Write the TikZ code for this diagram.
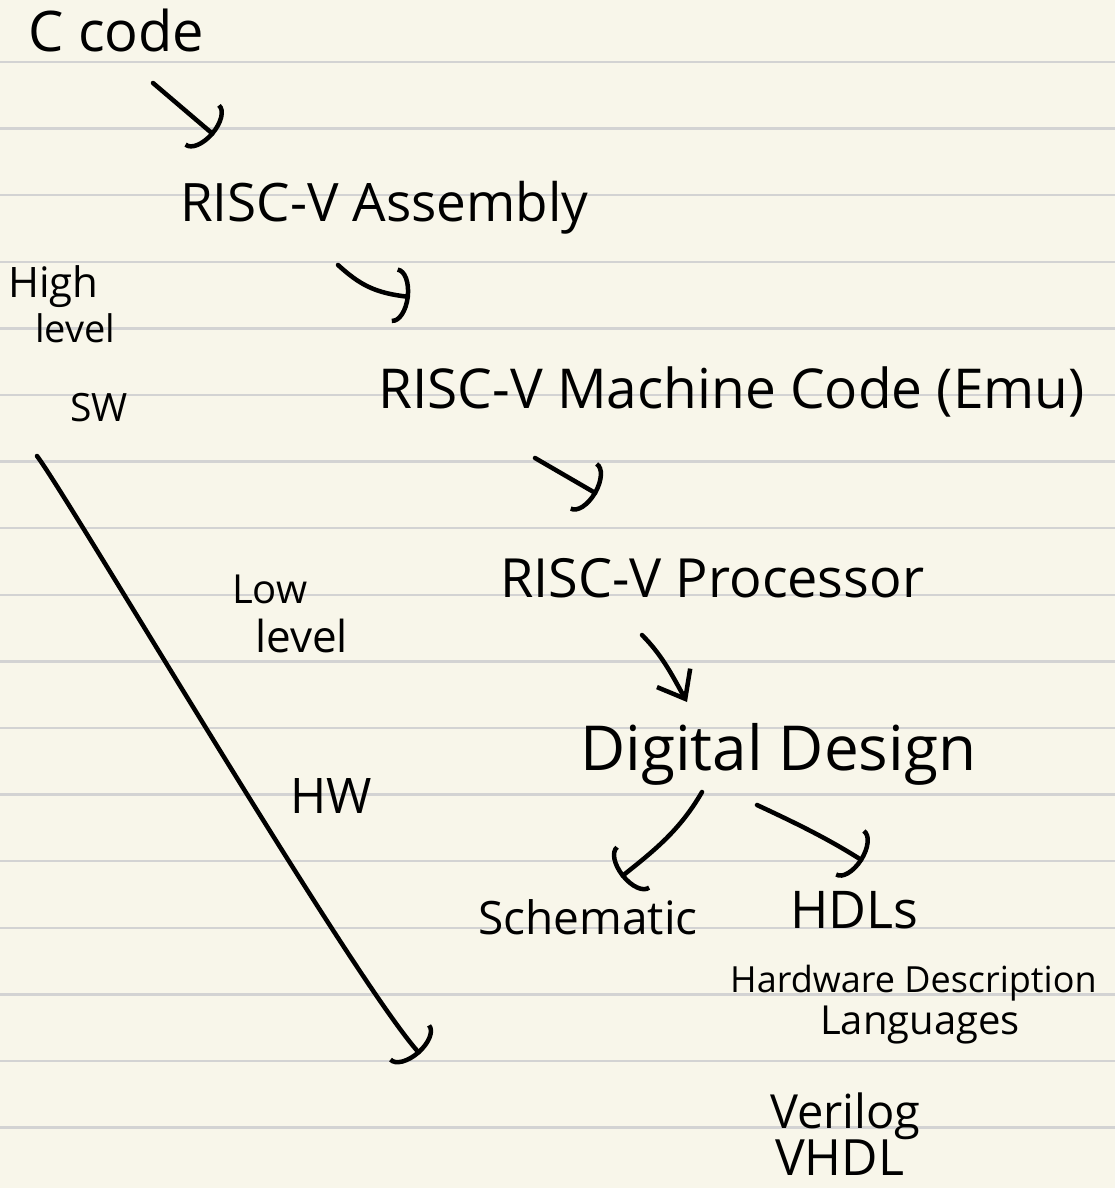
\documentclass[tikz,border=0pt]{standalone}
\usepackage{fontspec}
\setmainfont{Open Sans}
\usetikzlibrary{arrows.meta}
\definecolor{paper}{HTML}{F8F6EA}
\definecolor{ruleline}{HTML}{D3D3D3}
\begin{document}
\begin{tikzpicture}[x=1pt,y=-1pt,
  lbl/.style={inner sep=0pt, anchor=base west, text=black},
  pen/.style={line width=4.5pt, line cap=round, line join=round, draw=black},
  hook/.style={pen, -{Arc Barb[arc=180,length=11pt,width=40pt,scale=1.4]}},
  vee/.style={pen, -{Straight Barb[length=24pt,width=38pt]}}]
\fill[paper] (0,0) rectangle (1115,1188);
\useasboundingbox (0,0) rectangle (1115,1188);
\foreach \k in {0,...,16}
  \draw[ruleline, line width=2.5pt] (0,{62+66.6*\k}) -- (1115,{62+66.6*\k});

% labels
\node[lbl, font=\fontsize{56}{60}\selectfont] (ccode) at (28,52) {C code};
\node[lbl, font=\fontsize{53}{60}\selectfont] (asm) at (180,221) {RISC-V Assembly};
\node[lbl, font=\fontsize{55}{60}\selectfont] (mc) at (378,408) {RISC-V Machine Code (Emu)};
\node[lbl, font=\fontsize{54}{60}\selectfont] (proc) at (500,597) {RISC-V Processor};
\node[lbl, font=\fontsize{62}{60}\selectfont] (dd) at (580,770) {Digital Design};
\node[lbl, font=\fontsize{46}{60}\selectfont] (sch) at (478,934) {Schematic};
\node[lbl, font=\fontsize{52}{60}\selectfont] (hdl) at (790,928) {HDLs};
\node[lbl, font=\fontsize{36}{40}\selectfont] (hdl1) at (730,992) {Hardware Description};
\node[lbl, font=\fontsize{40}{40}\selectfont] (hdl2) at (820,1034) {Languages};
\node[lbl, font=\fontsize{47}{50}\selectfont] (ver) at (770,1128) {Verilog};
\node[lbl, font=\fontsize{50}{50}\selectfont] (vhdl) at (775,1175) {VHDL};
\node[lbl, font=\fontsize{42}{40}\selectfont] (high) at (8,297) {High};
\node[lbl, font=\fontsize{38}{40}\selectfont] (lev1) at (35,342) {level};
\node[lbl, font=\fontsize{39}{40}\selectfont] (sw) at (70,421) {SW};
\node[lbl, font=\fontsize{40}{40}\selectfont] (low) at (232,603) {Low};
\node[lbl, font=\fontsize{44}{40}\selectfont] (lev2) at (255,652) {level};
\node[lbl, font=\fontsize{49}{40}\selectfont] (hw) at (290,813) {HW};

% connector ends
\coordinate (a1s) at (153,83);  \coordinate (a1e) at (214,135);
\coordinate (a2s) at (338,265); \coordinate (a2e) at (410,297);
\coordinate (a3s) at (535,458); \coordinate (a3e) at (597,494);
\coordinate (a4s) at (642,635); \coordinate (a4e) at (687,702);
\coordinate (a5s) at (702,792); \coordinate (a5e) at (621,877);
\coordinate (a6s) at (757,805); \coordinate (a6e) at (863,861);
\coordinate (bs) at (37,456);   \coordinate (be) at (420,1054);

\draw[hook] (a1s) -- (a1e);
\draw[hook] (a2s) .. controls (360,285) and (375,293) .. (a2e);
\draw[hook] (a3s) -- (a3e);
\draw[vee] (a4s) .. controls (662,655) and (672,675) .. (a4e);
\draw[hook] (a5s) .. controls (680,830) and (655,850) .. (a5e);
\draw[hook] (a6s) .. controls (800,825) and (830,840) .. (a6e);
\draw[hook] (bs) .. controls (70,500) and (350,975) .. (be);
\end{tikzpicture}
\end{document}
